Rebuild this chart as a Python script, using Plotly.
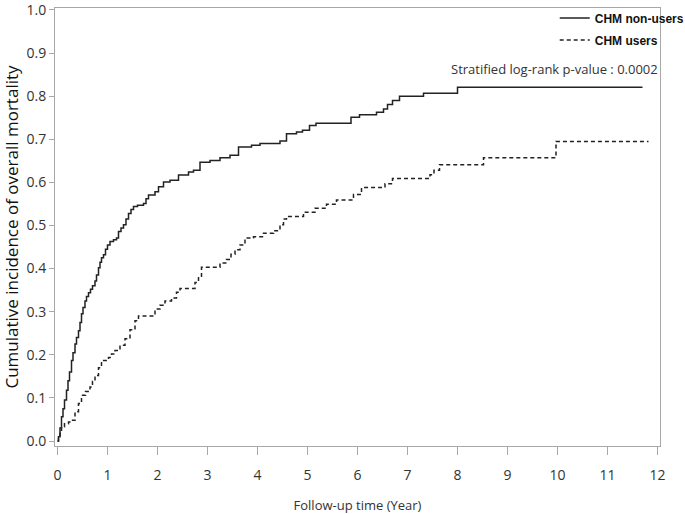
import plotly.graph_objects as go

# CHM non-users (solid) - step points (time in years, cumulative incidence)
nonusers_t = [0.00, 0.02, 0.05, 0.08, 0.11, 0.14, 0.18, 0.21, 0.24, 0.28, 0.31, 0.35, 0.38, 0.42,
              0.45, 0.48, 0.51, 0.55, 0.58, 0.62, 0.66, 0.70, 0.75, 0.78, 0.82, 0.85, 0.88, 0.92,
              0.96, 1.00, 1.05, 1.12, 1.18, 1.22, 1.27, 1.32, 1.37, 1.42, 1.47, 1.52, 1.60, 1.72,
              1.77, 1.82, 1.95, 2.02, 2.12, 2.25, 2.42, 2.62, 2.72, 2.85, 3.05, 3.25, 3.45, 3.62,
              3.88, 4.05, 4.45, 4.58, 4.78, 4.90, 5.04, 5.17, 5.87, 6.04, 6.38, 6.52, 6.60, 6.70,
              6.84, 7.32, 8.00, 11.70]
nonusers_v = [0.000, 0.010, 0.030, 0.056, 0.075, 0.095, 0.118, 0.140, 0.160, 0.187, 0.205, 0.225, 0.240, 0.256,
              0.275, 0.295, 0.310, 0.325, 0.335, 0.344, 0.352, 0.360, 0.371, 0.385, 0.402, 0.415, 0.425, 0.432,
              0.445, 0.455, 0.463, 0.467, 0.471, 0.486, 0.494, 0.502, 0.515, 0.528, 0.537, 0.544, 0.547, 0.551,
              0.562, 0.571, 0.578, 0.590, 0.601, 0.605, 0.617, 0.624, 0.628, 0.647, 0.651, 0.657, 0.663, 0.682,
              0.686, 0.690, 0.696, 0.713, 0.717, 0.721, 0.732, 0.737, 0.751, 0.757, 0.763, 0.770, 0.781, 0.790,
              0.800, 0.807, 0.821, 0.821]

# CHM users (dashed)
users_t = [0.00, 0.02, 0.05, 0.08, 0.14, 0.22, 0.28, 0.35, 0.42, 0.48, 0.56, 0.65, 0.70, 0.75,
           0.82, 0.88, 1.02, 1.08, 1.15, 1.25, 1.35, 1.45, 1.55, 1.62, 1.95, 2.05, 2.15, 2.28,
           2.38, 2.45, 2.75, 2.82, 2.88, 3.25, 3.38, 3.47, 3.55, 3.65, 3.75, 3.92, 4.12, 4.32,
           4.45, 4.52, 4.58, 4.92, 5.15, 5.38, 5.58, 5.92, 6.08, 6.55, 6.70, 7.45, 7.53, 7.64,
           8.52, 9.97, 11.82]
users_v = [0.000, 0.006, 0.020, 0.033, 0.040, 0.044, 0.048, 0.068, 0.087, 0.106, 0.115, 0.125, 0.138, 0.152,
           0.170, 0.187, 0.194, 0.202, 0.210, 0.222, 0.237, 0.258, 0.279, 0.290, 0.306, 0.315, 0.325, 0.332,
           0.345, 0.354, 0.368, 0.382, 0.403, 0.413, 0.421, 0.433, 0.444, 0.455, 0.471, 0.474, 0.482, 0.488,
           0.502, 0.515, 0.521, 0.531, 0.540, 0.549, 0.559, 0.572, 0.588, 0.597, 0.609, 0.618, 0.628, 0.641,
           0.657, 0.695, 0.695]

x_ticks = list(range(0, 13))
y_ticks = [round(i * 0.1, 1) for i in range(11)]
y_tick_labels = [f"{v:.1f}" for v in y_ticks]

line_color = "#222222"
frame_color = "#a8a8a8"
text_color = "#333333"

fig = go.Figure()
fig.add_trace(go.Scatter(x=nonusers_t, y=nonusers_v, mode="lines", line_shape="hv",
                         line=dict(color=line_color, width=1.5), name="<b>CHM non-users</b>",
                         legendgroup="a"))
fig.add_trace(go.Scatter(x=users_t, y=users_v, mode="lines", line_shape="hv",
                         line=dict(color=line_color, width=1.5, dash="4px,3px"), name="<b>CHM users</b>",
                         legendgroup="b"))

fig.update_layout(
    width=685, height=514,
    margin=dict(l=55, r=25, t=8, b=68, autoexpand=False),
    paper_bgcolor="white", plot_bgcolor="white",
    font=dict(family="Open Sans", color=text_color),
    showlegend=True,
    legend=dict(x=0.826, y=1.01, xanchor="left", yanchor="top",
                bgcolor="rgba(0,0,0,0)", font=dict(family="Liberation Sans", size=12, color="#111111"),
                itemwidth=30, tracegroupgap=3, traceorder="grouped"),
    xaxis=dict(range=[-0.05, 12.05], tickvals=x_ticks, ticks="outside", ticklen=8,
               tickcolor=frame_color, showline=True, linecolor=frame_color, linewidth=1,
               mirror=True, showgrid=False, zeroline=False, automargin=False,
               tickfont=dict(size=14, color=text_color), ticklabelstandoff=8,
               ticklabeloverflow="allow",
               title=dict(text="Follow-up time (Year)", font=dict(size=13, color=text_color), standoff=18)),
    yaxis=dict(range=[-0.0116, 1.0046], tickvals=y_ticks, ticktext=y_tick_labels, ticks="outside",
               ticklen=5, tickcolor=frame_color, showline=True, linecolor=frame_color, linewidth=1,
               mirror=True, showgrid=False, zeroline=False, automargin=False,
               tickfont=dict(size=14, color=text_color), ticklabeloverflow="allow",
               title=dict(text="Cumulative incidence of overall mortality",
                          font=dict(size=17, color="#111111"), standoff=8)),
    annotations=[dict(text="Stratified log-rank p-value : 0.0002", xref="paper", yref="paper",
                      x=1.0, y=0.86, xanchor="right", yanchor="middle", showarrow=False,
                      font=dict(size=13, color=text_color))],
)

fig.write_html("out.html", config={"displayModeBar": False},
               post_script="document.body.style.margin='0';")
